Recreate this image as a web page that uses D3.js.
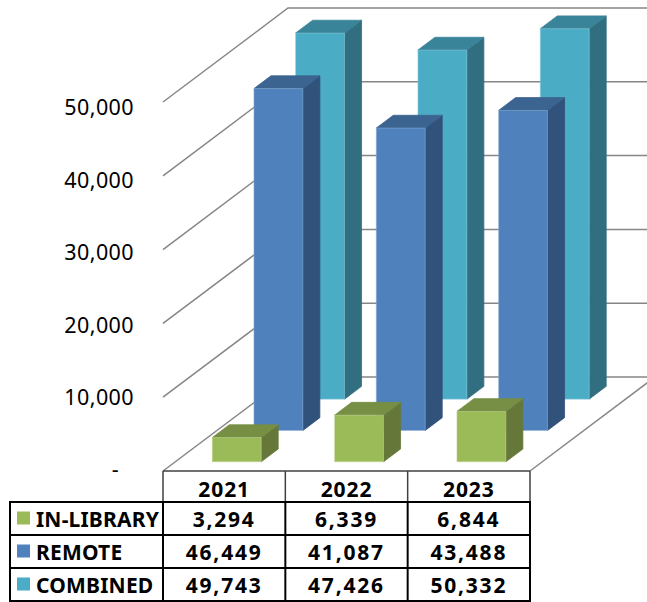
<!DOCTYPE html>
<html>
<head>
<meta charset="utf-8">
<script src="https://cdn.jsdelivr.net/npm/d3@7"></script>
<style>
html, body { margin: 0; padding: 0; background: #fff; }
svg { display: block; }
text { font-family: "Noto Sans", sans-serif; fill: #000; }
</style>
</head>
<body>
<div id="chart"></div>
<script>
const years = ["2021", "2022", "2023"];
const seriesNames = ["IN-LIBRARY", "REMOTE", "COMBINED"];
const inLibrary = [3294, 6339, 6844];
const remote = [46449, 41087, 43488];
const combined = [49743, 47426, 50332];
const seriesValues = [inLibrary, remote, combined];
const yTicks = [0, 10000, 20000, 30000, 40000, 50000];

const colors = {
    "IN-LIBRARY": {front: "#9BBB59", side: "#65783A", top: "#768F45", edge: "#C3D69B"},
    "REMOTE": {front: "#4F81BD", side: "#31527A", top: "#3B6491", edge: "#95B3D7"},
    "COMBINED": {front: "#4BACC6", side: "#316F80", top: "#3A8499", edge: "#93CDDD"}
};

const width = 647, height = 602;
const svg = d3.select("#chart").append("svg")
    .attr("width", width)
    .attr("height", height);

/***** SCALES *****/
const floorY = 471;
const depthX = 125, depthY = -94;

const xScale = d3.scaleBand().domain(years).range([163, 530]);
const barScale = d3.scaleBand().domain(years).range([162, 529])
    .paddingInner(0.6).paddingOuter(0.3);
const yScale = d3.scaleLinear().domain([0, 50000]).range([0, 369]);
// bars sit a pixel lower than the walls
const barHeight = d3.scaleLinear().domain([0, 50000]).range([-1, 367]);
const depthScale = d3.scaleBand().domain(seriesNames).range([0, 1])
    .paddingInner(0.592).paddingOuter(0.296).align(0.55);

// oblique projection: x along the front edge, v up, z into the page
const px = (x, z) => x + z * depthX;
const py = (v, z, scale = yScale) => floorY - scale(v) + z * depthY;
const pts = arr => arr.map(p => p.join(",")).join(" ");

/***** WALLS AND FLOOR *****/
const walls = svg.append("g")
    .attr("fill", "none")
    .attr("stroke", "#868686")
    .attr("stroke-width", 1.5);

yTicks.forEach(t => {
    walls.append("polyline")
        .attr("points", pts([
            [px(xScale.range()[0], 0), py(t, 0)],
            [px(xScale.range()[0], 1), py(t, 1)],
            [px(xScale.range()[1], 1), py(t, 1)]
        ]));
});
walls.append("line")
    .attr("x1", px(xScale.range()[1], 0)).attr("y1", py(0, 0))
    .attr("x2", px(xScale.range()[1], 1)).attr("y2", py(0, 1));

/***** BARS, back row first *****/
const bars = svg.append("g");
seriesNames.slice().reverse().forEach(name => {
    const values = seriesValues[seriesNames.indexOf(name)];
    const c = colors[name];
    const z0 = depthScale(name), z1 = z0 + depthScale.bandwidth();
    years.forEach((year, i) => {
        const x0 = barScale(year), x1 = x0 + barScale.bandwidth();
        const v = values[i];
        const g = bars.append("g")
            .attr("stroke-width", 0.8)
            .attr("stroke-linejoin", "round");
        g.append("polygon")
            .attr("fill", c.side).attr("stroke", c.side)
            .attr("points", pts([
                [px(x1, z0), py(0, z0, barHeight)], [px(x1, z1), py(0, z1, barHeight)],
                [px(x1, z1), py(v, z1, barHeight)], [px(x1, z0), py(v, z0, barHeight)]
            ]));
        g.append("polygon")
            .attr("fill", c.top).attr("stroke", c.top)
            .attr("points", pts([
                [px(x0, z0), py(v, z0, barHeight)], [px(x1, z0), py(v, z0, barHeight)],
                [px(x1, z1), py(v, z1, barHeight)], [px(x0, z1), py(v, z1, barHeight)]
            ]));
        g.append("polygon")
            .attr("fill", c.front).attr("stroke", c.edge).attr("stroke-opacity", 0.6)
            .attr("points", pts([
                [px(x0, z0), py(0, z0, barHeight)], [px(x1, z0), py(0, z0, barHeight)],
                [px(x1, z0), py(v, z0, barHeight)], [px(x0, z0), py(v, z0, barHeight)]
            ]));
    });
});

/***** Y AXIS *****/
const labelScale = d3.scaleLinear().domain([0, 50000]).range([470, 108]);
const yAxis = svg.append("g")
    .attr("transform", "translate(134,0)")
    .call(d3.axisLeft(labelScale)
        .tickValues(yTicks)
        .tickSize(0)
        .tickPadding(0)
        .tickFormat(d => d === 0 ? "-" : d3.format(",")(d)));
yAxis.select(".domain").remove();
yAxis.selectAll("text")
    .style("font-family", '"Noto Sans", sans-serif')
    .style("font-size", "21.5px")
    .style("letter-spacing", "0.4px")
    .attr("dx", d => d === 0 ? -15 : 0);

/***** DATA TABLE *****/
const rowScale = d3.scaleBand().domain(seriesNames).range([502, 601]);
const left = 10, tableRight = xScale.range()[1];
const table = svg.append("g");

// header cell lines are thinner and greyer than the body
const grid = table.append("g").attr("stroke", "#404040").attr("stroke-width", 1.5);
grid.append("line").attr("x1", 163).attr("x2", tableRight).attr("y1", floorY).attr("y2", floorY);
xScale.domain().concat("end").forEach(y => {
    const x = y === "end" ? tableRight : xScale(y);
    grid.append("line").attr("x1", x).attr("x2", x).attr("y1", floorY).attr("y2", rowScale.range()[0]);
});

const body = table.append("g").attr("stroke", "#000").attr("stroke-width", 2);
[rowScale.range()[0]].concat(seriesNames.map(n => rowScale(n) + rowScale.bandwidth())).forEach(y => {
    body.append("line").attr("x1", left - 1).attr("x2", tableRight + 1).attr("y1", y).attr("y2", y);
});
[left].concat(years.map(y => xScale(y)), [tableRight]).forEach(x => {
    body.append("line").attr("x1", x).attr("x2", x).attr("y1", rowScale.range()[0]).attr("y2", rowScale.range()[1]);
});

const cell = (x, y, txt, anchor) => table.append("text")
    .attr("x", x).attr("y", y)
    .attr("text-anchor", anchor)
    .attr("dominant-baseline", "central")
    .attr("font-weight", "bold")
    .attr("font-size", "21px")
    .attr("letter-spacing", "0.9px")
    .text(txt);

years.forEach(y => {
    cell(xScale(y) + xScale.bandwidth() / 2, 489, y, "middle");
});

seriesNames.forEach((name, r) => {
    const cy = rowScale(name) + rowScale.bandwidth() / 2;
    table.append("rect")
        .attr("x", 17).attr("y", cy - 7)
        .attr("width", 13).attr("height", 13)
        .attr("fill", colors[name].front);
    cell(36, cy, name, "start").attr("letter-spacing", "0.2px");
    years.forEach((y, i) => {
        cell(xScale(y) + xScale.bandwidth() / 2, cy, d3.format(",")(seriesValues[r][i]), "middle")
            .attr("letter-spacing", "1.8px");
    });
});
</script>
</body>
</html>
